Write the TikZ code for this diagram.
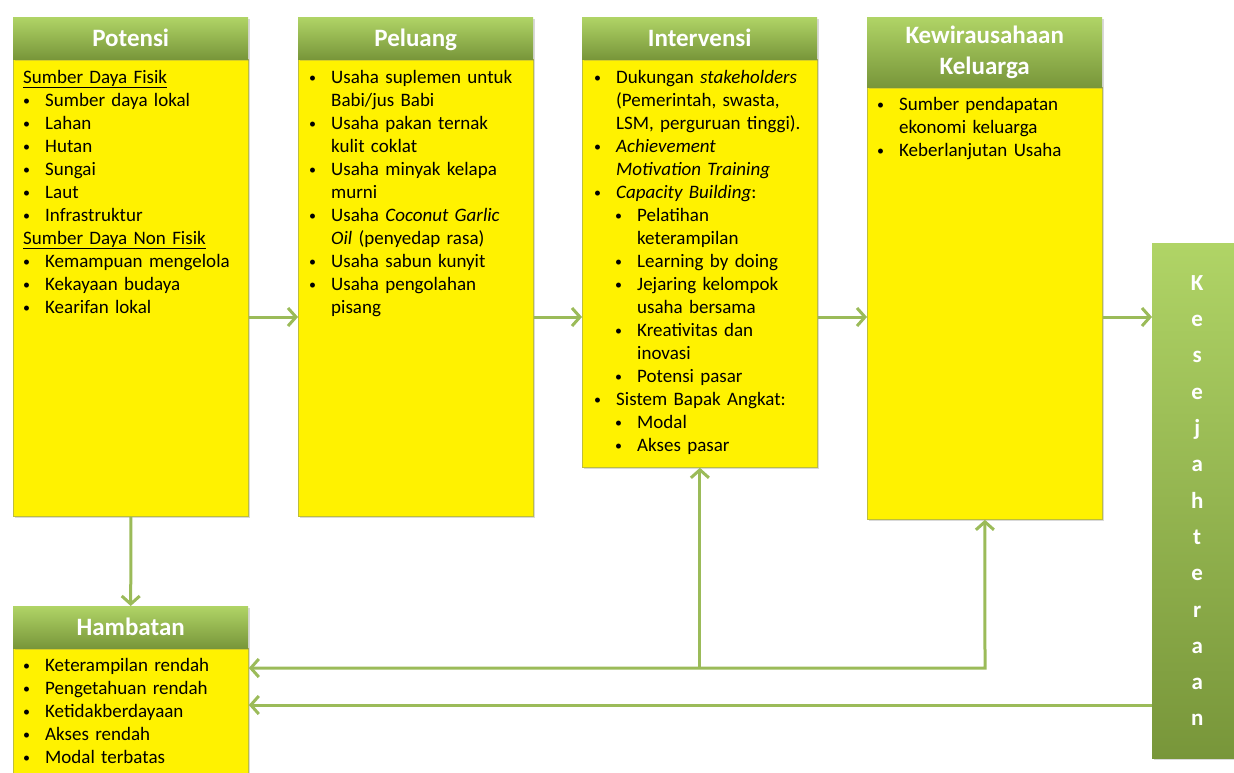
\documentclass[tikz,border=0pt]{standalone}
\usepackage{fontspec}
\setmainfont{Carlito}
\usepackage{tikz}
\usepackage{xcolor}
\usetikzlibrary{arrows.meta,shadows}

\definecolor{hdtop}{RGB}{176,212,102}
\definecolor{hdbot}{RGB}{120,150,58}
\definecolor{bodyline}{RGB}{190,190,60}
\definecolor{arrgreen}{RGB}{155,187,89}

\newcommand\bdot{\raisebox{.5pt}{\fontsize{14}{14}\selectfont\textbullet}}
\newcommand\bul[1]{\makebox[22pt][l]{\bdot}#1}
\newcommand\cont[1]{\hspace*{22pt}#1}
\newcommand\subbul[1]{\hspace*{21pt}\makebox[22pt][l]{\bdot}#1}
\newcommand\subcont[1]{\hspace*{43pt}#1}

\tikzset{
  hdr/.style={rectangle, anchor=north west, minimum width=235pt, minimum height=42pt, inner sep=0pt,
    top color=hdtop, bottom color=hdbot, text=white, align=center,
    font=\bfseries\fontsize{25}{31}\selectfont,
    drop shadow={shadow xshift=1.5pt, shadow yshift=-1.5pt, opacity=.3}},
  oneline/.style={text height=16pt, text depth=0pt},
  body/.style={rectangle, anchor=north west, minimum width=235pt, inner sep=0pt,
    fill=yellow, draw=bodyline, line width=.8pt,
    drop shadow={shadow xshift=1.5pt, shadow yshift=-1.5pt, opacity=.3}},
  txt/.style={anchor=base west, text width=225pt, inner sep=0pt, align=left,
    font=\fontsize{19}{23}\selectfont},
  arr/.style={draw=arrgreen, line width=3pt, -{Straight Barb[length=8pt, width=18pt]}},
  arr2/.style={draw=arrgreen, line width=3pt,
    {Straight Barb[length=8pt, width=18pt]}-{Straight Barb[length=8pt, width=18pt]}}
}

\begin{document}
\begin{tikzpicture}[x=1pt, y=-1pt]
  \useasboundingbox (0,0) rectangle (1234,772);

  % boxes
  \node[body, minimum height=457pt] (potensi) at (13,59) {};
  \node[hdr, oneline] (potensi-hd) at (13,17) {Potensi};
  \node[body, minimum height=457pt] (peluang) at (298,59) {};
  \node[hdr, oneline] (peluang-hd) at (298,17) {Peluang};
  \node[body, minimum height=408pt] (intervensi) at (582,59) {};
  \node[hdr, oneline] (intervensi-hd) at (582,17) {Intervensi};
  \node[body, minimum height=432pt] (kew) at (867,87) {};
  \node[hdr, minimum height=70pt] (kew-hd) at (867,17) {Kewirausahaan\\Keluarga};
  \node[body, minimum height=160pt] (hambatan) at (13,648) {};
  \node[hdr, oneline] (hambatan-hd) at (13,606) {Hambatan};
  \node[rectangle, anchor=north west, minimum width=90pt, minimum height=515pt, inner sep=0pt,
    top color=hdtop, bottom color=hdbot, text=white, align=center,
    font=\bfseries\fontsize{23}{36.3}\selectfont,
    drop shadow={shadow xshift=1.5pt, shadow yshift=-1.5pt, opacity=.3}]
    (sejahtera) at (1152,243) {K\\e\\s\\e\\j\\a\\h\\t\\e\\r\\a\\a\\n};

  % texts
  \node[txt] (potensi-txt) at (23,83) {\underline{Sumber Daya Fisik}\\
    \bul{Sumber daya lokal}\\ \bul{Lahan}\\ \bul{Hutan}\\ \bul{Sungai}\\ \bul{Laut}\\
    \bul{Infrastruktur}\\ \underline{Sumber Daya Non Fisik}\\
    \bul{Kemampuan mengelola}\\ \bul{Kekayaan budaya}\\ \bul{Kearifan lokal}};
  \node[txt] (peluang-txt) at (309,83) {\bul{Usaha suplemen untuk}\\ \cont{Babi/jus Babi}\\
    \bul{Usaha pakan ternak}\\ \cont{kulit coklat}\\
    \bul{Usaha minyak kelapa}\\ \cont{murni}\\
    \bul{Usaha \textit{Coconut Garlic}}\\ \cont{\textit{Oil} (penyedap rasa)}\\
    \bul{Usaha sabun kunyit}\\ \bul{Usaha pengolahan}\\ \cont{pisang}};
  \node[txt] (intervensi-txt) at (594,83) {\bul{Dukungan \textit{stakeholders}}\\
    \cont{(Pemerintah, swasta,}\\ \cont{LSM, perguruan tinggi).}\\
    \bul{\textit{Achievement}}\\ \cont{\textit{Motivation Training}}\\
    \bul{\textit{Capacity Building}:}\\
    \subbul{Pelatihan}\\ \subcont{keterampilan}\\
    \subbul{Learning by doing}\\
    \subbul{Jejaring kelompok}\\ \subcont{usaha bersama}\\
    \subbul{Kreativitas dan}\\ \subcont{inovasi}\\
    \subbul{Potensi pasar}\\
    \bul{Sistem Bapak Angkat:}\\
    \subbul{Modal}\\ \subbul{Akses pasar}};
  \node[txt] (kew-txt) at (877,110) {\bul{Sumber pendapatan}\\ \cont{ekonomi keluarga}\\
    \bul{Keberlanjutan Usaha}};
  \node[txt] (hambatan-txt) at (23,671) {\bul{Keterampilan rendah}\\ \bul{Pengetahuan rendah}\\
    \bul{Ketidakberdayaan}\\ \bul{Akses rendah}\\ \bul{Modal terbatas}};

  % arrows
  \coordinate (flow) at (0,317);
  \coordinate (fb) at (985,668);
  \coordinate (back) at (0,705);
  \draw[arr] (potensi.east |- flow) -- (peluang.west |- flow);
  \draw[arr] (peluang.east |- flow) -- (intervensi.west |- flow);
  \draw[arr] (intervensi.east |- flow) -- (kew.west |- flow);
  \draw[arr] (kew.east |- flow) -- (sejahtera.west |- flow);
  \draw[arr] (potensi.south) -- (hambatan-hd.north);
  \draw[arr2] (kew.south) -- (fb) -- (hambatan.east |- fb);
  \draw[arr] (intervensi.south |- fb) -- (intervensi.south);
  \draw[arr] (sejahtera.west |- back) -- (hambatan.east |- back);
\end{tikzpicture}
\end{document}
